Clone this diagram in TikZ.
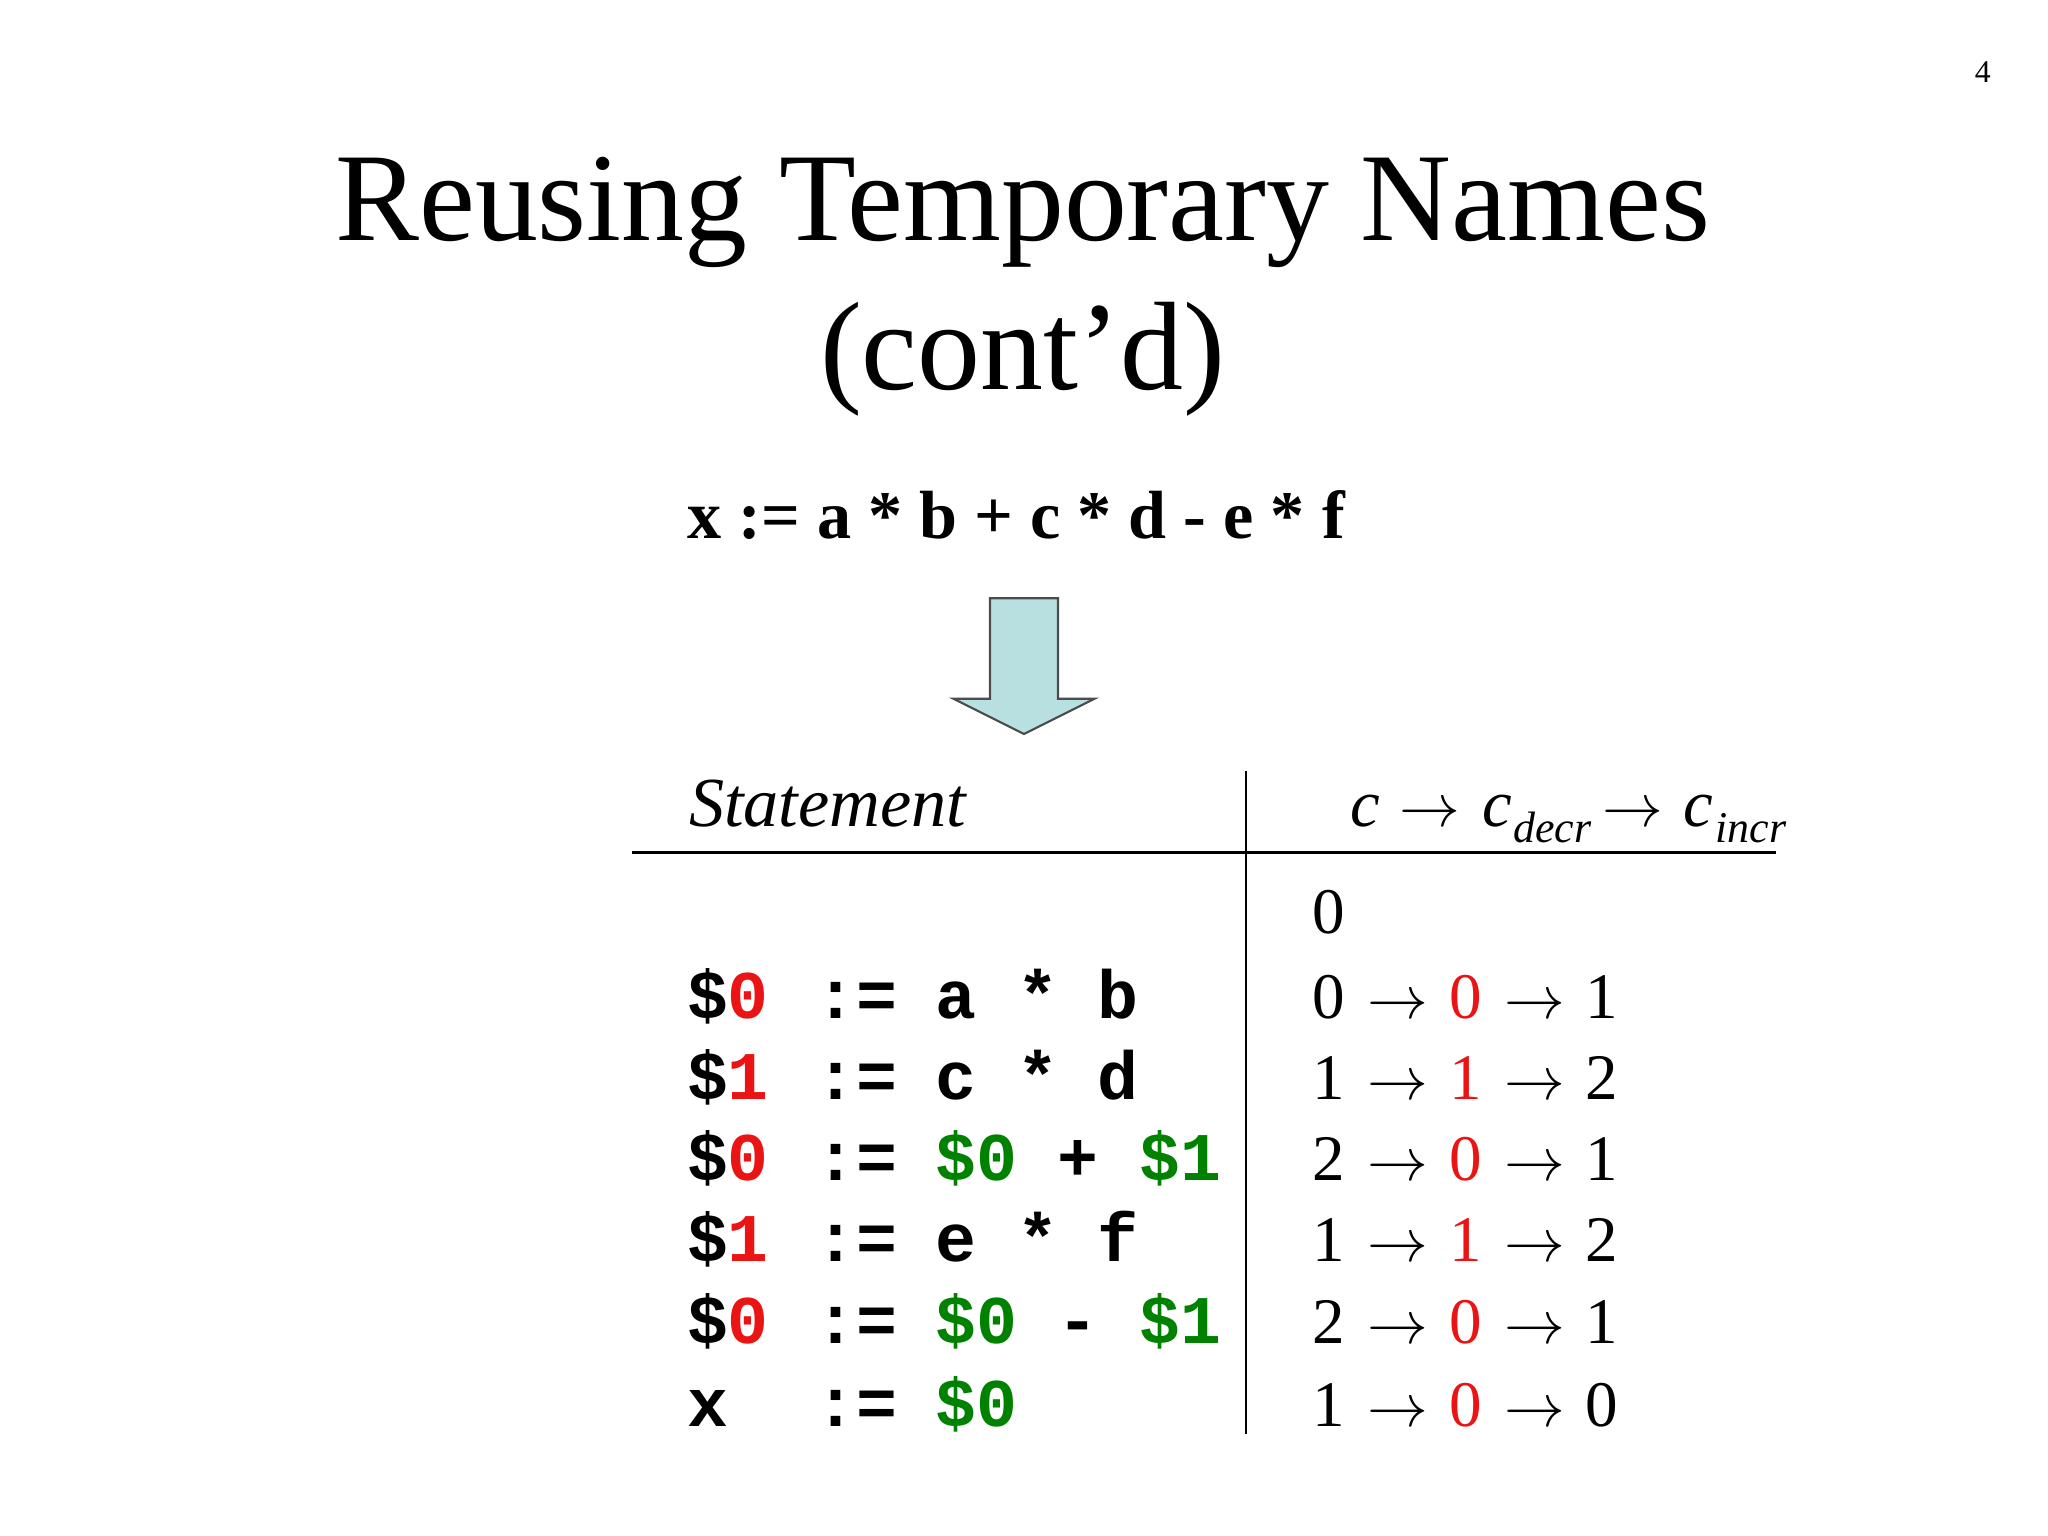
\documentclass[tikz,border=0pt]{standalone}
\usepackage{fontspec}
\setmainfont{Liberation Serif}
\setmonofont{Liberation Mono}
\definecolor{myred}{RGB}{235,20,20}
\definecolor{mygreen}{RGB}{0,130,0}
\definecolor{arrowfill}{RGB}{184,224,224}
\begin{document}
\begin{tikzpicture}[x=0.01306cm,y=-0.01306cm,
  code/.style={anchor=base,inner sep=0,font=\fontsize{19.4}{20}\selectfont\ttfamily\bfseries},
  num/.style={anchor=base,inner sep=0,font=\fontsize{18.5}{20}\selectfont},
  hdr/.style={anchor=base,inner sep=0,font=\fontsize{19}{20}\selectfont\itshape}]
\useasboundingbox (0,0) rectangle (1568,1176);
\node[anchor=base,inner sep=0,font=\fontsize{9}{10}\selectfont] (pg) at (1518,63) {4};
\node[anchor=base,inner sep=0,font=\fontsize{35.8}{40}\selectfont] (t1) at (783,184) {Reusing Temporary Names};
\node[anchor=base,inner sep=0,font=\fontsize{35.8}{40}\selectfont] (t2) at (783,298) {(cont’d)};
\node[anchor=base,inner sep=0,font=\fontsize{19.4}{20}\selectfont\bfseries] (expr) at (778,412) {x := a * b + c * d - e * f};
\draw[fill=arrowfill,draw=black!70,line width=0.6pt] (758,458) -- (810,458) -- (810,535) -- (838,535) -- (784,562) -- (730,535) -- (758,535) -- cycle;
\coordinate (hl) at (484,653); \coordinate (hr) at (1360,653);
\coordinate (vt) at (954,590); \coordinate (vb) at (954,1098);
\draw[line width=0.8pt] (hl) -- (hr);
\draw[line width=0.8pt] (vt) -- (vb);
\node[hdr,anchor=base west,font=\fontsize{20}{20}\selectfont\itshape] (st) at (527,633) {Statement};
\node[hdr] (h1) at (1045,633) {c};
\node[num] (h2) at (1095,633) {$\rightarrow$};
\node[hdr] (h3) at (1146,633) {c};
\node[hdr,anchor=base west,font=\fontsize{12.5}{14}\selectfont\itshape] (h4) at (1158,645) {decr};
\node[num] (h5) at (1250,633) {$\rightarrow$};
\node[hdr] (h6) at (1300,633) {c};
\node[hdr,anchor=base west,font=\fontsize{12.5}{14}\selectfont\itshape] (h7) at (1313,645) {incr};
\node[num] (z0) at (1017,715) {0};
% code rows: y / lhs / lhs-colour / digit / operand1 / op1 colour / op / op x / operand2 / op2 colour / op2 west x
\foreach \y/\a/\b/\c/\cc/\d/\dx/\e/\ec/\ex [count=\r] in {
 780/\$/0/a/black/*/795/b/black/840,
 842/\$/1/c/black/*/795/d/black/840,
 904/\$/0/\$0/mygreen/+/825/\$1/mygreen/872,
 966/\$/1/e/black/*/795/f/black/840,
 1029/\$/0/\$0/mygreen/-/825/\$1/mygreen/872,
 1092/x/{}/\$0/mygreen/{}/795/{}/black/840}{
  \node[code] (r\r a) at (542,\y) {\a};
  \node[code,text=myred] (r\r b) at (573,\y) {\b};
  \node[code] (r\r c) at (656,\y) {:=};
  \node[code,text=\cc,anchor=base west] (r\r d) at (716,\y) {\c};
  \node[code] (r\r e) at (\dx,\y) {\d};
  \node[code,text=\ec,anchor=base west] (r\r f) at (\ex,\y) {\e};
}
% number rows
\foreach \y/\p/\q/\s [count=\r] in {780/0/0/1, 842/1/1/2, 904/2/0/1, 966/1/1/2, 1029/2/0/1, 1092/1/0/0}{
  \node[num] (n\r a) at (1017,\y) {\p};
  \node[num] (n\r b) at (1070,\y) {$\rightarrow$};
  \node[num,text=myred] (n\r c) at (1122,\y) {\q};
  \node[num] (n\r d) at (1175,\y) {$\rightarrow$};
  \node[num] (n\r e) at (1226,\y) {\s};
}
\end{tikzpicture}
\end{document}
